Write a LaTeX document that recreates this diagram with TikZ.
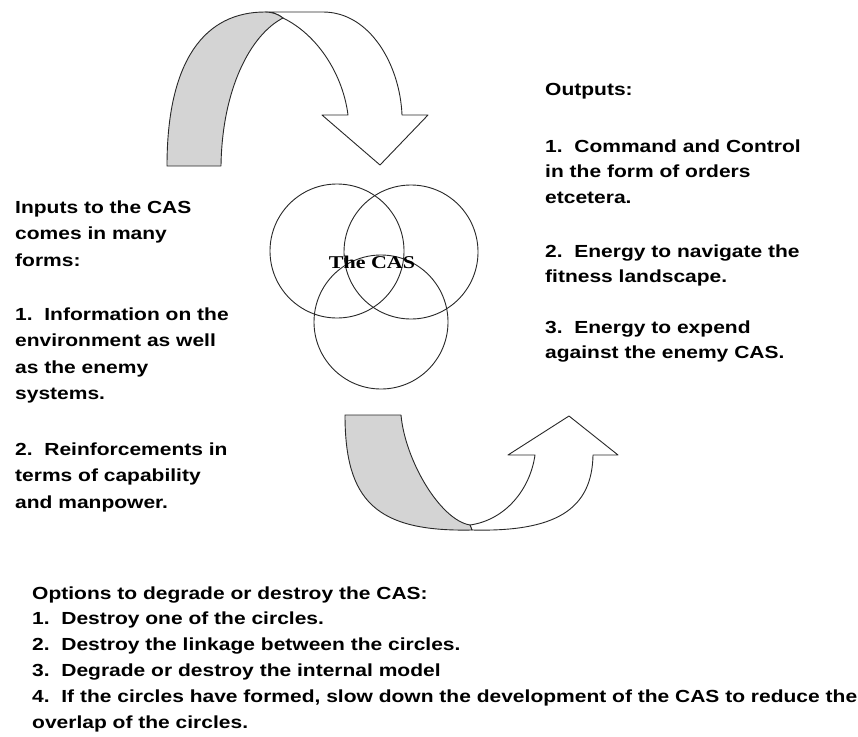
\documentclass[tikz,border=0pt]{standalone}
\usepackage{fontspec}
\setmainfont{Liberation Sans}[FakeStretch=1.2]
\newfontfamily\casfont{Liberation Serif}[FakeStretch=1.22]
\definecolor{ribbongray}{RGB}{212,212,212}
\definecolor{inkline}{RGB}{40,40,40}
\tikzset{
  ribbon/.style={draw=inkline, line width=0.9pt, line join=round},
  ring/.style={circle, draw=inkline, line width=0.9pt, minimum size=134pt, inner sep=0pt},
  leftblk/.style={anchor=base west, inner sep=0pt, font=\bfseries\fontsize{17.5}{26.6}\selectfont},
  rightblk/.style={anchor=base west, inner sep=0pt, font=\bfseries\fontsize{17.5}{25.5}\selectfont},
  botblk/.style={anchor=base west, inner sep=0pt, font=\bfseries\fontsize{17.5}{25.8}\selectfont},
}
\begin{document}
\begin{tikzpicture}[x=1pt,y=-1pt]
\fill[white] (0,0) rectangle (858,736);
\useasboundingbox (0,0) rectangle (858,736);

% top curved arrow
\draw[ribbon, fill=white] (283,18) .. controls (318,35) and (343,75) .. (348,115)
  -- (322,115) -- (380,165) -- (428,115) -- (402,115)
  .. controls (400,65) and (370,12) .. (323,12) -- (265,12)
  .. controls (272,12) and (278,14) .. (283,18) -- cycle;
\draw[ribbon, fill=ribbongray] (167,166) .. controls (167,60) and (205,12) .. (265,12)
  .. controls (272,12) and (278,14) .. (283,18)
  .. controls (250,35) and (222,90) .. (221,166) -- cycle;

% bottom curved arrow
\draw[ribbon, fill=white] (470,525) .. controls (505,520) and (530,490) .. (535,455)
  -- (508,455) -- (569,416) -- (618,455) -- (593,455)
  .. controls (592,510) and (555,532) .. (472,530) -- cycle;
\draw[ribbon, fill=ribbongray] (345,415) -- (401,415)
  .. controls (405,460) and (440,520) .. (470,525) -- (472,530)
  .. controls (376,532) and (345,501) .. (345,415) -- cycle;

% circles
\node[ring] (c1) at (337,251) {};
\node[ring] (c2) at (411,252) {};
\node[ring] (c3) at (381,322) {};
\node[inner sep=0pt, font=\casfont\bfseries\fontsize{18}{20}\selectfont] (cas) at (372,262) {The CAS};

% left text
\node[leftblk] (in1) at (15,213) {\begin{tabular}[t]{@{}l@{}}Inputs to the CAS\\comes in many\\forms:\end{tabular}};
\node[leftblk] (in2) at (15,320) {\begin{tabular}[t]{@{}l@{}}1.\ \ Information on the\\environment as well\\as the enemy\\systems.\end{tabular}};
\node[leftblk] (in3) at (15,455) {\begin{tabular}[t]{@{}l@{}}2.\ \ Reinforcements in\\terms of capability\\and manpower.\end{tabular}};

% right text
\node[rightblk] (out0) at (545,95) {Outputs:};
\node[rightblk] (out1) at (545,152) {\begin{tabular}[t]{@{}l@{}}1.\ \ Command and Control\\in the form of orders\\etcetera.\end{tabular}};
\node[rightblk] (out2) at (545,257) {\begin{tabular}[t]{@{}l@{}}2.\ \ Energy to navigate the\\fitness landscape.\end{tabular}};
\node[rightblk] (out3) at (545,333) {\begin{tabular}[t]{@{}l@{}}3.\ \ Energy to expend\\against the enemy CAS.\end{tabular}};

% bottom text
\node[botblk] (opts) at (32,599) {\begin{tabular}[t]{@{}l@{}}Options to degrade or destroy the CAS:\\
1.\ \ Destroy one of the circles.\\
2.\ \ Destroy the linkage between the circles.\\
3.\ \ Degrade or destroy the internal model\\
4.\ \ If the circles have formed, slow down the development of the CAS to reduce the\\
overlap of the circles.\end{tabular}};
\end{tikzpicture}
\end{document}
